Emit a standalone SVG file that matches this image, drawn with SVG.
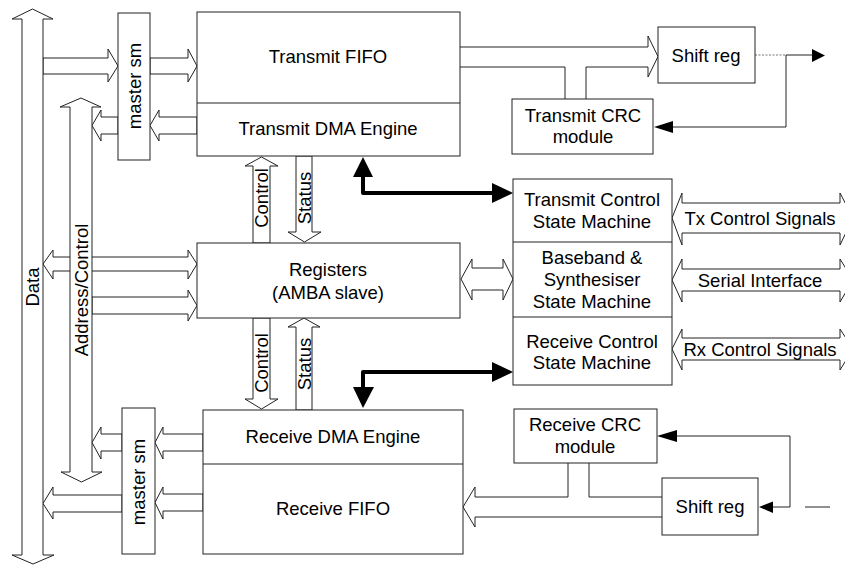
<svg xmlns="http://www.w3.org/2000/svg" width="845" height="565" viewBox="0 0 845 565">
<style>
.bx{fill:#fff;stroke:#222;stroke-width:1}
.ln{fill:none;stroke:#222;stroke-width:1}
.ha{fill:#fff;stroke:#222;stroke-width:1;stroke-linejoin:miter}
.th{fill:none;stroke:#000;stroke-width:4;stroke-linejoin:round}
.hd{fill:#000;stroke:none}
text{font-family:"Liberation Sans",Arial,sans-serif;font-size:18.5px;fill:#000;text-anchor:middle}
.c{dominant-baseline:central}
</style>
<rect width="845" height="565" fill="#fff"/>

<g id="connectors">
  <!-- Data <-> Registers -->
  <polygon class="ha" points="43,264 53,250 53,257 188,257 188,250 197,264 188,279 188,271 53,271 53,279"/>
  <!-- Address bus -> Registers -->
  <polygon class="ha" points="92,297 188,297 188,290 197,305.5 188,321 188,314 92,314"/>
  <!-- Data bus -> master sm (tx) -->
  <polygon class="ha" points="43,58 108,58 108,49 118,66 108,82 108,74 43,74"/>
  <!-- master sm -> Transmit FIFO -->
  <polygon class="ha" points="150,58 188,58 188,49 197,66 188,82 188,74 150,74"/>
  <!-- Transmit DMA -> master sm -->
  <polygon class="ha" points="197,117 159,117 159,110 150,125.5 159,141 159,134 197,134"/>
  <!-- master sm -> Address bus -->
  <polygon class="ha" points="118,117 101,117 101,110 92,125.5 101,141 101,134 118,134"/>
  <!-- Control up (tx) -->
  <polygon class="ha" points="261.5,157 278,166 270,166 270,243 253,243 253,166 245,166"/>
  <!-- Status down (tx) -->
  <polygon class="ha" points="296,156 312,156 312,232 321,232 304.5,242 288,232 296,232"/>
  <!-- Control down (rx) -->
  <polygon class="ha" points="253,318 270,318 270,399 278,399 261.5,409 245,399 253,399"/>
  <!-- Status up (rx) -->
  <polygon class="ha" points="304,318 320,327 312,327 312,410 296,410 296,327 288,327"/>
  <text class="c" transform="translate(261.5,198) rotate(-90)">Control</text>
  <text class="c" transform="translate(304,198) rotate(-90)">Status</text>
  <text class="c" transform="translate(261.5,363) rotate(-90)">Control</text>
  <text class="c" transform="translate(304,364) rotate(-90)">Status</text>
  <!-- Receive DMA -> master sm (rx) -->
  <polygon class="ha" points="203,434 163,434 163,427 155,442.5 163,459 163,451 203,451"/>
  <!-- Receive FIFO -> master sm (rx) -->
  <polygon class="ha" points="203,494 163,494 163,487 155,502.5 163,519 163,511 203,511"/>
  <!-- master sm (rx) -> Address bus -->
  <polygon class="ha" points="122,434 101,434 101,427 92,442.5 101,459 101,451 122,451"/>
  <!-- master sm (rx) -> Data bus -->
  <polygon class="ha" points="122,495 53,495 53,487 43,503.5 53,519 53,512 122,512"/>
  <!-- Registers <-> Baseband -->
  <polygon class="ha" points="461,279 472,259 472,268 503,268 503,259 513,279 503,300 503,290 472,290 472,300"/>
  <!-- right-side double arrows -->
  <polygon class="ha" points="672,218 682,193 682,203 840,203 840,193 853,218 840,245 840,233 682,233 682,245"/>
  <polygon class="ha" points="672,280 682,259 682,269 840,269 840,259 853,280 840,302 840,291 682,291 682,302"/>
  <polygon class="ha" points="672,349 682,329 682,338 840,338 840,329 853,349 840,370 840,360 682,360 682,370"/>
  <text class="c" x="760" y="218">Tx Control Signals</text>
  <text class="c" x="760" y="280">Serial Interface</text>
  <text class="c" x="760" y="349">Rx Control Signals</text>
  <!-- thick control arrows -->
  <path class="th" d="M363,175 L363,193 L494,193"/>
  <polygon class="hd" points="363,157 353,177 373,177"/>
  <polygon class="hd" points="513,193 492,183 492,203"/>
  <path class="th" d="M494,372 L363,372 L363,390"/>
  <polygon class="hd" points="513,372 492,362 492,382"/>
  <polygon class="hd" points="363,408 353,387 374,387"/>
  <!-- Transmit FIFO -> Shift reg (split around CRC) -->
  <path class="ln" d="M460,47 L648,47"/>
  <path class="ln" d="M460,67 L565,67 L565,99"/>
  <path class="ln" d="M586,99 L586,67 L648,67"/>
  <polyline class="ln" points="648,47 648,36 658,56.5 648,77 648,67"/>
  <!-- Shift reg output / feedback -->
  <path class="ln" d="M755,55 L786,55" stroke-dasharray="2,1.5" style="stroke:#777"/>
  <path class="ln" d="M786,55 L812,55 M786,55 L786,127 L672,127"/>
  <polygon class="hd" points="825,55.5 812,49 812,62"/>
  <polygon class="hd" points="654,127 673,121 673,133"/>
  <!-- Rx input / feedback -->
  <path class="ln" d="M790,436 L676,436 M790,436 L790,507 L772,507 M805,507 L830,507"/>
  <polygon class="hd" points="657,436 677,430 677,442"/>
  <polygon class="hd" points="759,507 773,501.5 773,513"/>
  <!-- Receive CRC / Shift reg -> Receive FIFO -->
  <path class="ln" d="M568,463 L568,497 L475,497"/>
  <path class="ln" d="M589,463 L589,497 L662,497"/>
  <path class="ln" d="M662,517 L475,517"/>
  <polyline class="ln" points="475,497 475,487 463,507 475,527 475,517"/>
</g>

<g id="data-bus">
  <polygon class="ha" points="32.5,9 53,19 43,19 43,555 54,555 33,564 12,555 22,555 22,19 12,19"/>
  <text class="c" transform="translate(32,287) rotate(-90)">Data</text>
</g>
<g id="address-bus">
  <polygon class="ha" points="81,98 101,107 92,107 92,472 102,472 81.5,482 61,472 70,472 70,107 60,107"/>
  <text class="c" transform="translate(81,290) rotate(-90)">Address/Control</text>
</g>

<g id="master-sm-tx">
  <rect class="bx" x="118" y="13" width="32" height="147"/>
  <text class="c" transform="translate(134,86) rotate(-90)">master sm</text>
</g>
<g id="transmit-fifo-dma">
  <rect class="bx" x="197" y="12" width="263" height="144"/>
  <line class="ln" x1="197" y1="103" x2="460" y2="103"/>
  <text x="328" y="63">Transmit FIFO</text>
  <text x="328" y="135">Transmit DMA Engine</text>
</g>
<g id="registers">
  <rect class="bx" x="197" y="243" width="263" height="75"/>
  <text x="328" y="276">Registers</text>
  <text x="328" y="299">(AMBA slave)</text>
</g>
<g id="receive-dma-fifo">
  <rect class="bx" x="203" y="410" width="260" height="144"/>
  <line class="ln" x1="203" y1="464" x2="463" y2="464"/>
  <text x="333" y="443">Receive DMA Engine</text>
  <text x="333" y="515">Receive FIFO</text>
</g>
<g id="master-sm-rx">
  <rect class="bx" x="122" y="408" width="33" height="146"/>
  <text class="c" transform="translate(138,482) rotate(-90)">master sm</text>
</g>
<g id="state-machines">
  <rect class="bx" x="513" y="179" width="159" height="206"/>
  <line class="ln" x1="513" y1="242" x2="672" y2="242"/>
  <line class="ln" x1="513" y1="317" x2="672" y2="317"/>
  <text x="592" y="206">Transmit Control</text>
  <text x="592" y="228">State Machine</text>
  <text x="592" y="264">Baseband &amp;</text>
  <text x="592" y="286">Synthesiser</text>
  <text x="592" y="308">State Machine</text>
  <text x="592" y="348">Receive Control</text>
  <text x="592" y="369">State Machine</text>
</g>
<g id="shift-reg-tx">
  <rect class="bx" x="658" y="27" width="97" height="56"/>
  <text x="706" y="62">Shift reg</text>
</g>
<g id="transmit-crc">
  <rect class="bx" x="512" y="99" width="141" height="55"/>
  <text x="583" y="122">Transmit CRC</text>
  <text x="583" y="143">module</text>
</g>
<g id="receive-crc">
  <rect class="bx" x="514" y="409" width="143" height="54"/>
  <text x="585" y="431">Receive CRC</text>
  <text x="585" y="453">module</text>
</g>
<g id="shift-reg-rx">
  <rect class="bx" x="662" y="478" width="96" height="57"/>
  <text x="710" y="513">Shift reg</text>
</g>
</svg>
